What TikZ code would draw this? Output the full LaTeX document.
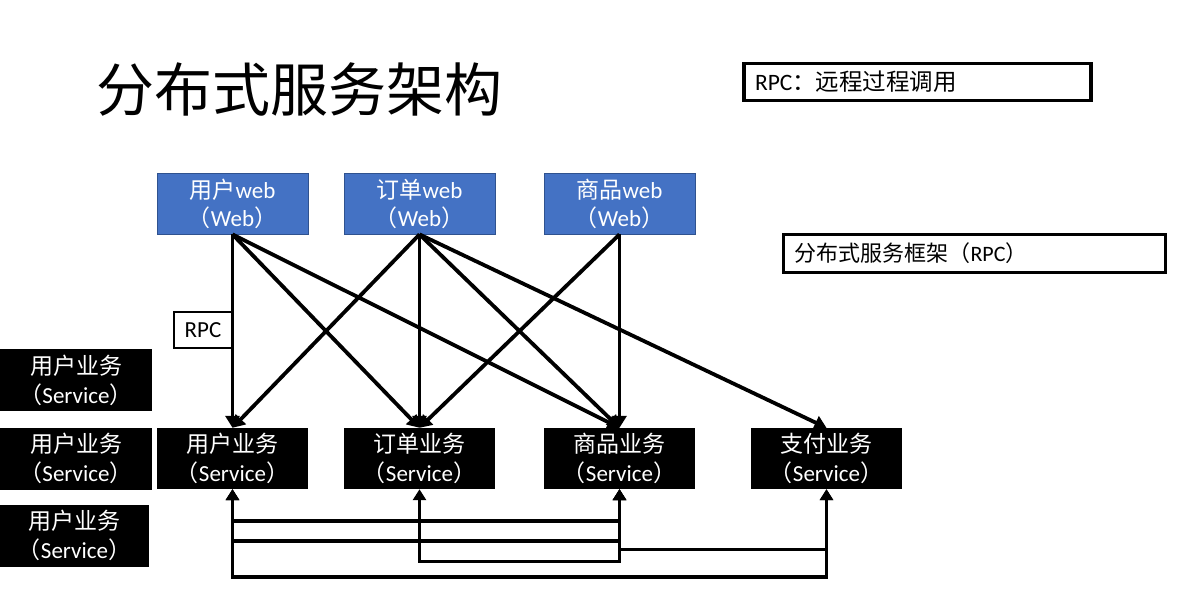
\documentclass[tikz,border=0pt]{standalone}
\usepackage{fontspec}
\setmainfont{Carlito}
\newfontfamily\cjk{Noto Sans CJK SC}
\usetikzlibrary{arrows.meta}
\definecolor{webblue}{HTML}{4472C4}
\definecolor{webedge}{HTML}{2F528F}
\begin{document}
\begin{tikzpicture}[x=1pt,y=-1pt,
  webbox/.style={fill=webblue,draw=webedge,line width=0.8pt,minimum width=151pt,minimum height=61pt,text=white,align=center,font=\fontsize{23}{28}\selectfont,inner sep=0pt},
  svcbox/.style={fill=black,minimum width=151pt,minimum height=61pt,text=white,align=center,font=\fontsize{23}{29}\selectfont,inner sep=0pt},
  topconn/.style={line width=3.8pt,-{Triangle[length=12pt,width=14pt]}},
  botconn/.style={line width=3.6pt,{Triangle[length=11pt,width=13pt]}-{Triangle[length=11pt,width=13pt]}},
  labelbox/.style={draw=black,fill=white,align=left,inner xsep=10pt,inner ysep=0pt}
]
\useasboundingbox (0,0) rectangle (1193,595);

% title
\node[font=\cjk\fontsize{58}{62}\selectfont,inner sep=0pt] (title) at (299,90) {分布式服务架构};

% label boxes top right
\node[labelbox,line width=3.4pt,minimum width=347pt,minimum height=37pt,text width=325pt,font=\fontsize{23.5}{26}\selectfont] (rpcdef) at (917.5,82) {RPC{\cjk ：远程过程调用}};
\node[labelbox,line width=3pt,minimum width=382pt,minimum height=38pt,text width=360pt,font=\fontsize{22}{26}\selectfont] (frame) at (974.5,253.5) {{\cjk 分布式服务框架（}RPC{\cjk ）}};

% web boxes
\node[webbox] (w1) at (232.5,203.5) {{\cjk 用户}web\\{\cjk （}Web{\cjk ）}};
\node[webbox] (w2) at (419.5,203.5) {{\cjk 订单}web\\{\cjk （}Web{\cjk ）}};
\node[webbox] (w3) at (619.5,203.5) {{\cjk 商品}web\\{\cjk （}Web{\cjk ）}};

% service boxes
\node[svcbox] (s1) at (232.5,458.5) {{\cjk 用户业务}\\{\cjk （}Service{\cjk ）}};
\node[svcbox] (s2) at (419.5,458.5) {{\cjk 订单业务}\\{\cjk （}Service{\cjk ）}};
\node[svcbox] (s3) at (619.5,458.5) {{\cjk 商品业务}\\{\cjk （}Service{\cjk ）}};
\node[svcbox] (s4) at (826.5,458.5) {{\cjk 支付业务}\\{\cjk （}Service{\cjk ）}};

% left service boxes
\node[svcbox,minimum width=152pt,minimum height=62pt] (l1) at (76,380) {{\cjk 用户业务}\\{\cjk （}Service{\cjk ）}};
\node[svcbox,minimum width=152pt,minimum height=62pt] (l2) at (76,458.5) {{\cjk 用户业务}\\{\cjk （}Service{\cjk ）}};
\node[svcbox,minimum width=149pt,minimum height=62pt] (l3) at (74.5,535.5) {{\cjk 用户业务}\\{\cjk （}Service{\cjk ）}};

% top connectors
\draw[topconn] (w1.south) -- (s1.north);
\draw[topconn] (w1.south) -- (s2.north);
\draw[topconn] (w1.south) -- (s3.north);
\draw[topconn] (w2.south) -- (s1.north);
\draw[topconn] (w2.south) -- (s2.north);
\draw[topconn] (w2.south) -- (s3.north);
\draw[topconn] (w2.south) -- (s4.north);
\draw[topconn] (w3.south) -- (s2.north);
\draw[topconn] (w3.south) -- (s3.north);

% RPC label
\node[draw=black,line width=2.8pt,fill=white,minimum width=58pt,minimum height=36pt,inner sep=0pt,font=\fontsize{23}{26}\selectfont] (rpc) at (203,330) {RPC};

% bottom connectors
\draw[botconn] (s1.south) -- ++(0,32) -| (s3.south);
\draw[botconn] (s1.south) -- ++(0,52) -| (s3.south);
\draw[botconn] (s1.south) -- ++(0,88) -| (s4.south);
\draw[botconn,line width=3pt] (s2.south) -- ++(0,72) -| (s3.south);
\draw[botconn,line width=3pt] (s3.south) -- ++(0,60) -| (s4.south);
\end{tikzpicture}
\end{document}
